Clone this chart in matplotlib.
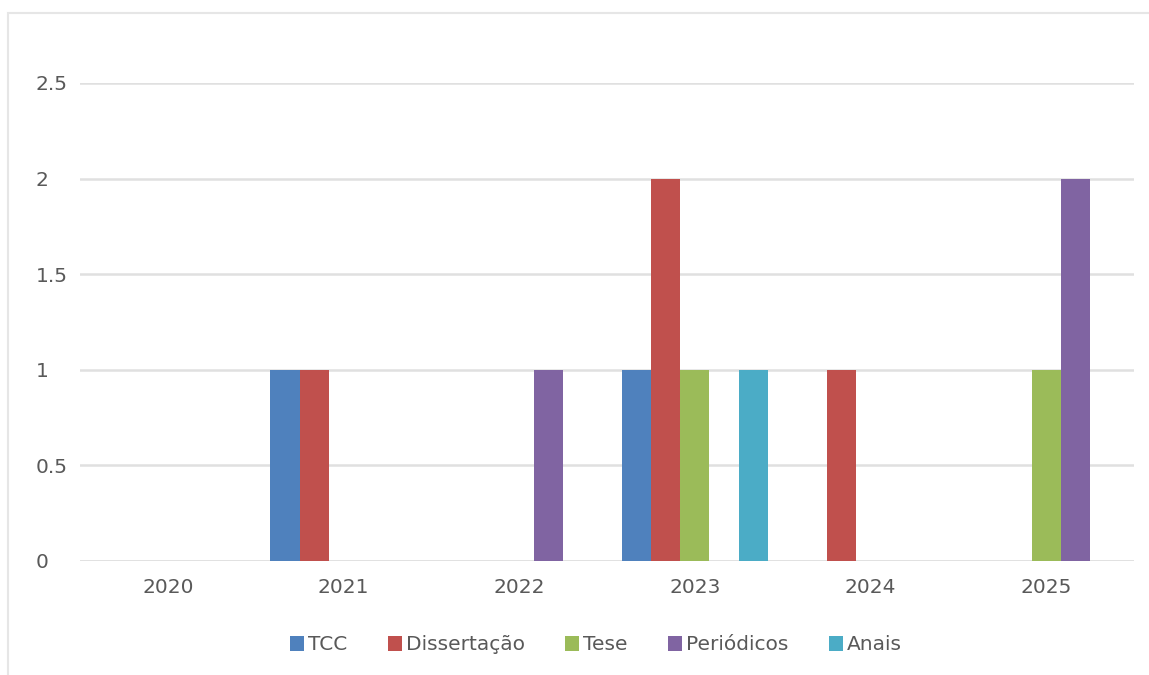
import numpy as np
import matplotlib
matplotlib.use('agg')
import matplotlib.pyplot as plt
from matplotlib.patches import Rectangle

anos = ['2020', '2021', '2022', '2023', '2024', '2025']
series = ['TCC', 'Dissertação', 'Tese', 'Periódicos', 'Anais']
tcc = [0, 1, 0, 1, 0, 0]
dissertacao = [0, 1, 0, 2, 1, 0]
tese = [0, 0, 0, 1, 0, 1]
periodicos = [0, 0, 1, 0, 0, 2]
anais = [0, 0, 0, 1, 0, 0]
yticks = [0, 0.5, 1, 1.5, 2, 2.5]
ytick_labels = ['0', '0.5', '1', '1.5', '2', '2.5']

cores = ['#4F81BD', '#C0504D', '#9BBB59', '#8064A2', '#4BACC6']
valores = [tcc, dissertacao, tese, periodicos, anais]

plt.rcParams['font.family'] = 'DejaVu Sans'
texto = '#595959'

fig = plt.figure(figsize=(11.49, 6.75), dpi=100)
ax = fig.add_axes([80/1149, 1-561/675, (1134-80)/1149, (561-83)/675])

x = np.arange(len(anos))
w = 1/6.
for i, (nome, vals) in enumerate(zip(series, valores)):
    ax.bar(x + (i-2)*w, vals, width=w, color=cores[i], label=nome, zorder=3)

ax.set_xlim(-0.5, 5.5)
ax.set_ylim(0, 2.5)
ax.set_yticks(yticks)
ax.set_yticklabels(ytick_labels)
ax.set_xticks(x)
ax.set_xticklabels(anos)
ax.grid(axis='y', color='#e0e0e0', linewidth=1.8, zorder=0)
ax.axhline(0, color='#e0e0e0', linewidth=1.8, zorder=1)
for s in ax.spines.values():
    s.set_visible(False)
ax.tick_params(axis='both', length=0, labelsize=14.5, labelcolor=texto)
ax.tick_params(axis='x', pad=12)
ax.tick_params(axis='y', pad=32)
for lb in ax.get_yticklabels():
    lb.set_horizontalalignment('left')

leg = fig.legend(loc='center', bbox_to_anchor=(596/1149, 1-645/675), ncol=5,
                 frameon=False, fontsize=14.5, handlelength=0.7, handleheight=0.7,
                 handletextpad=0.2, columnspacing=2.0, borderaxespad=0)
for t in leg.get_texts():
    t.set_color(texto)

fig.patches.append(Rectangle((8/1149, -0.1), 1.2, 1-13/675+0.1, transform=fig.transFigure,
                             fill=False, edgecolor='#e6e6e6', linewidth=1.5))

plt.savefig('out.png', dpi=100)
